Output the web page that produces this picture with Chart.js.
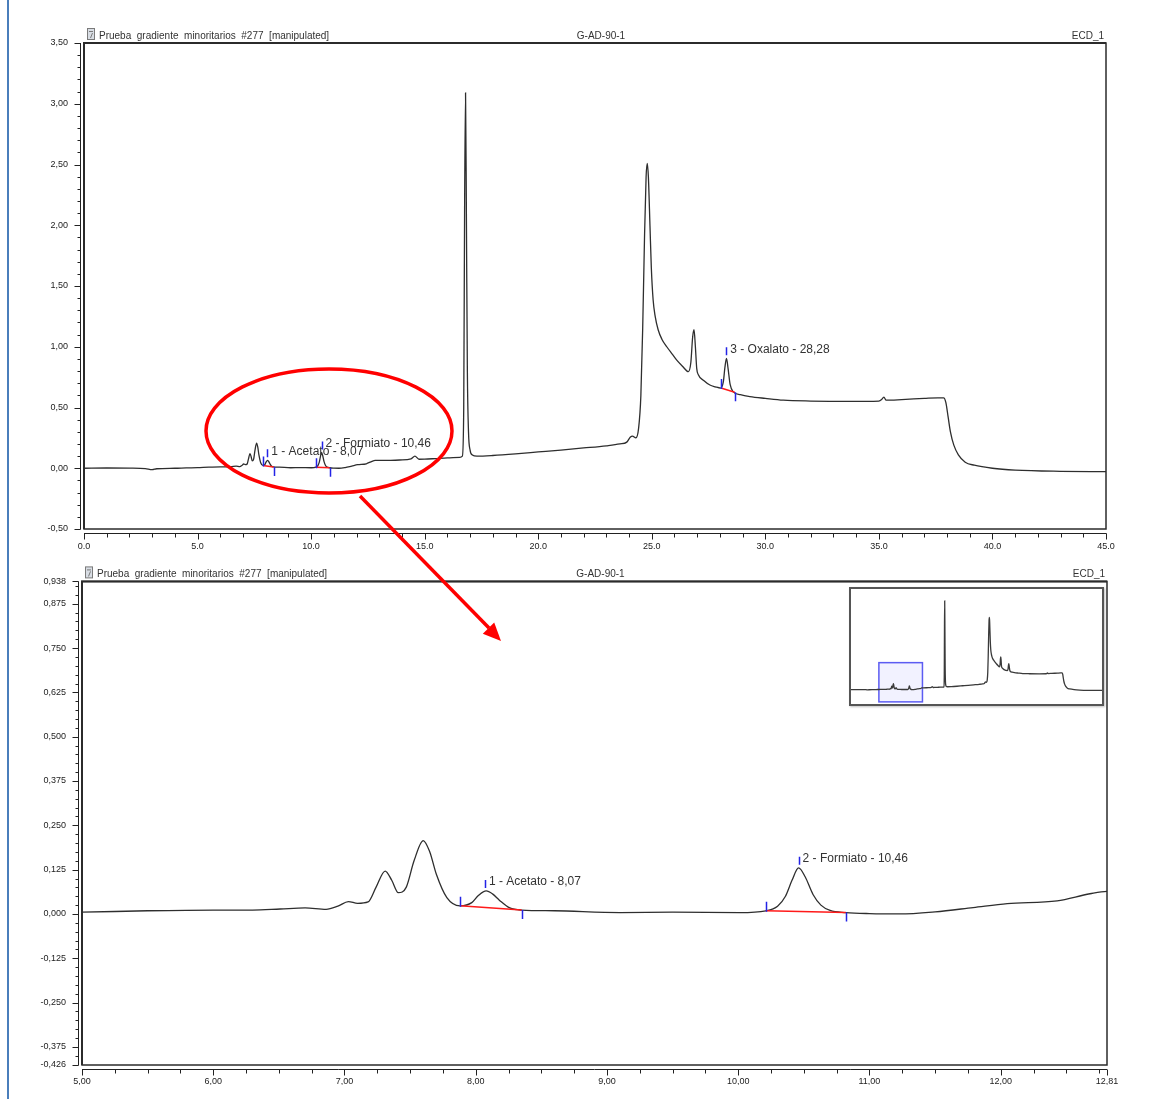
<!DOCTYPE html>
<html>
<head>
<meta charset="utf-8">
<script src="https://cdn.jsdelivr.net/npm/chart.js@4.4.1/dist/chart.umd.min.js"></script>
<style>
  body { margin: 0; background: #fff; }
  #page { position: relative; width: 1159px; height: 1099px; overflow: hidden; background: #fff; }
  #topChart { position: absolute; left: 0; top: 0; }
  #bottomChart { position: absolute; left: 0; top: 560px; }
  #insetBox { position: absolute; left: 849px; top: 587px; width: 251px; height: 115px;
              border: 2px solid #555; background: #fff; box-shadow: 1px 1px 2px rgba(0,0,0,0.25); }
  #insetChart { display: block; }
  #overlay { position: absolute; left: 0; top: 0; pointer-events: none; }
</style>
</head>
<body>
<div id="page">
  <canvas id="topChart" width="1159" height="560"></canvas>
  <canvas id="bottomChart" width="1159" height="539"></canvas>
  <div id="insetBox"><canvas id="insetChart" width="251" height="115"></canvas></div>
  <svg id="overlay" width="1159" height="1099">
    <line x1="8" y1="0" x2="8" y2="1099" stroke="#4a7ebb" stroke-width="2"/>
    <ellipse cx="329" cy="431" rx="123" ry="62" fill="none" stroke="#ff0000" stroke-width="3.5"/>
    <line x1="360" y1="496" x2="489" y2="628" stroke="#ff0000" stroke-width="3.5"/>
    <polygon points="501,641 482.8,633.7 494.2,622.5" fill="#ff0000"/>
  </svg>
</div>

<script>
// ===================== DATA =====================
// retention time (min) and ECD signal
const times = [
  0.0, 1.0, 2.0, 2.7, 3.0, 3.2, 4.0, 4.5, 5.0, 5.5, 6.0, 6.3, 6.51, 6.70, 6.86, 6.95,
  7.03, 7.10, 7.18, 7.24, 7.31, 7.36, 7.41, 7.47, 7.53, 7.60, 7.65, 7.70, 7.78, 7.88,
  7.97, 8.02, 8.08, 8.13, 8.18, 8.26, 8.35, 8.6, 9.1, 9.5, 10.01, 10.21, 10.30, 10.36,
  10.41, 10.46, 10.51, 10.57, 10.63, 10.70, 10.82, 11.0, 11.23, 11.5, 11.79, 12.05,
  12.43, 12.68, 12.82, 13.0, 13.5, 13.9, 14.4, 14.57, 14.75, 15.0, 15.5, 16.0, 16.55,
  16.66, 16.72, 16.76, 16.80, 16.84, 16.88, 16.93, 17.00, 17.10, 17.3, 18.0, 19.0, 20.0,
  21.0, 22.0, 23.0, 23.6, 23.9, 24.05, 24.15, 24.3, 24.42, 24.52, 24.6, 24.68, 24.75,
  24.80, 24.85, 24.92, 24.98, 25.06, 25.15, 25.28, 25.45, 25.66, 25.90, 26.10, 26.35,
  26.61, 26.72, 26.80, 26.86, 26.92, 26.98, 27.05, 27.30, 27.56, 27.80, 28.03, 28.15,
  28.22, 28.29, 28.36, 28.45, 28.58, 28.90, 29.32, 30.0, 30.79, 32.0, 33.73, 35.0, 35.12,
  35.22, 35.32, 36.0, 37.0, 37.6, 37.85, 37.95, 38.05, 38.15, 38.3, 38.5, 38.8, 39.2,
  40.0, 41.0, 43.0, 45.0
];
const signal = [
  0.000, 0.002, 0.001, -0.003, -0.012, -0.004, 0.000, 0.003, 0.005, 0.009, 0.011, 0.011, 0.014, 0.017, 0.013, 0.022,
  0.035, 0.030, 0.034, 0.075, 0.121, 0.095, 0.060, 0.075, 0.150, 0.207, 0.175, 0.112, 0.046, 0.023,
  0.032, 0.052, 0.065, 0.056, 0.039, 0.017, 0.011, 0.009, 0.004, 0.005, 0.004, 0.009, 0.022, 0.050,
  0.095, 0.130, 0.105, 0.055, 0.025, 0.010, 0.004, 0.001, 0.000, 0.006, 0.018, 0.029,
  0.037, 0.057, 0.064, 0.064, 0.065, 0.068, 0.078, 0.100, 0.074, 0.075, 0.080, 0.085, 0.090,
  0.100, 0.500, 2.200, 3.090, 2.000, 0.800, 0.300, 0.150, 0.110, 0.100, 0.105, 0.118, 0.134,
  0.150, 0.167, 0.185, 0.200, 0.215, 0.255, 0.265, 0.250, 0.330, 0.600, 1.150, 1.900, 2.400,
  2.510, 2.400, 2.000, 1.650, 1.385, 1.250, 1.140, 1.060, 1.000, 0.940, 0.890, 0.840,
  0.795, 0.870, 1.080, 1.140, 1.000, 0.820, 0.770, 0.720, 0.685, 0.670, 0.660, 0.710,
  0.830, 0.905, 0.820, 0.690, 0.630, 0.605, 0.590, 0.575, 0.560, 0.553, 0.550, 0.553, 0.565,
  0.585, 0.560, 0.565, 0.575, 0.580, 0.580, 0.540, 0.420, 0.300, 0.190, 0.110, 0.050, 0.025,
  0.000, -0.015, -0.025, -0.028
];

// integrated peaks
const peakNumbers = [1, 2, 3];
const peakNames = ["Acetato", "Formiato", "Oxalato"];
const peakTimes = [8.07, 10.46, 28.28];
const peakTops = [0.065, 0.130, 0.905];
const peakStarts = [7.88, 10.21, 28.05];
const peakEnds = [8.35, 10.82, 28.65];
const startLevels = [0.023, 0.009, 0.660];
const endLevels = [0.011, 0.004, 0.625];

// tick labels
const topXTicks = [0, 5, 10, 15, 20, 25, 30, 35, 40, 45];
const topYTicks = [-0.5, 0, 0.5, 1.0, 1.5, 2.0, 2.5, 3.0, 3.5];
const bottomXTicks = [5, 6, 7, 8, 9, 10, 11, 12, 12.81];
const bottomYTicks = [-0.426, -0.375, -0.25, -0.125, 0, 0.125, 0.25, 0.375, 0.5, 0.625, 0.75, 0.875, 0.938];

const headerTitle = "Prueba  gradiente  minoritarios  #277  [manipulated]";
const headerSample = "G-AD-90-1";
const headerChannel = "ECD_1";

const points = times.map((t, i) => ({ x: t, y: signal[i] }));

// ===================== HELPERS =====================
const FONT = "'Liberation Sans', Arial, sans-serif";

function fmt(v, d) {
  return Number(v).toFixed(d).replace(".", ",");
}

function minorValues(min, max, step) {
  const out = [];
  const a = Math.ceil(min / step - 1e-9);
  const b = Math.floor(max / step + 1e-9);
  for (let i = a; i <= b; i++) out.push(i * step);
  return out;
}

const crisp = p => Math.round(p) + 0.5;

// ===================== CHROMATOGRAM PLUGIN =====================
const chromPlugin = {
  id: "chrom",
  afterDatasetsDraw(chart, args, opts) {
    const { ctx, scales: { x, y } } = chart;
    ctx.save();
    peakTimes.forEach((t, i) => {
      if (t < x.min || t > x.max) return;
      const xs = x.getPixelForValue(peakStarts[i]), ys = y.getPixelForValue(startLevels[i]);
      const xe = x.getPixelForValue(peakEnds[i]), ye = y.getPixelForValue(endLevels[i]);
      const xp = x.getPixelForValue(t), yp = y.getPixelForValue(peakTops[i]);

      // baseline under the peak
      ctx.strokeStyle = "#ff1a1a";
      ctx.lineWidth = 1.5;
      ctx.beginPath();
      ctx.moveTo(xs, ys);
      ctx.lineTo(xe, ye);
      ctx.stroke();

      // start / apex / end marks
      ctx.strokeStyle = "#2323e6";
      ctx.lineWidth = 1.5;
      ctx.beginPath();
      ctx.moveTo(crisp(xs), ys - 9); ctx.lineTo(crisp(xs), ys + 1);
      ctx.moveTo(crisp(xp), yp - 11); ctx.lineTo(crisp(xp), yp - 3);
      ctx.moveTo(crisp(xe), ye); ctx.lineTo(crisp(xe), ye + 9);
      ctx.stroke();

      ctx.fillStyle = "#333";
      ctx.font = "12px " + FONT;
      ctx.textAlign = "left";
      ctx.textBaseline = "middle";
      ctx.fillText(peakNumbers[i] + " - " + peakNames[i] + " - " + fmt(t, 2), xp + 4, yp - 9);
    });
    ctx.restore();
  },
  afterDraw(chart, args, opts) {
    const { ctx, chartArea: a, scales: { x, y } } = chart;
    ctx.save();

    // plot frame
    ctx.strokeStyle = "#2b2b2b";
    ctx.lineWidth = 1.5;
    ctx.strokeRect(a.left, a.top, a.right - a.left, a.bottom - a.top);
    ctx.lineWidth = 2;
    ctx.beginPath();
    ctx.moveTo(a.left, a.bottom);
    ctx.lineTo(a.left, a.top);
    ctx.lineTo(a.right, a.top);
    ctx.stroke();

    // axis lines with minor and major ticks
    ctx.lineWidth = 1;
    ctx.strokeStyle = "#222";
    ctx.beginPath();
    const ax = Math.round(a.left) - 4 + 0.5;
    ctx.moveTo(ax, a.top); ctx.lineTo(ax, a.bottom);
    minorValues(y.min, y.max, opts.minorY).forEach(v => {
      const p = crisp(y.getPixelForValue(v));
      ctx.moveTo(ax - 3, p); ctx.lineTo(ax, p);
    });
    opts.majorY.forEach(v => {
      const p = crisp(y.getPixelForValue(v));
      ctx.moveTo(ax - 6, p); ctx.lineTo(ax, p);
    });
    const ay = Math.round(a.bottom) + 4 + 0.5;
    ctx.moveTo(a.left, ay); ctx.lineTo(a.right, ay);
    minorValues(x.min, x.max, opts.minorX).forEach(v => {
      const p = crisp(x.getPixelForValue(v));
      ctx.moveTo(p, ay); ctx.lineTo(p, ay + 4);
    });
    opts.majorX.forEach(v => {
      const p = crisp(x.getPixelForValue(v));
      ctx.moveTo(p, ay); ctx.lineTo(p, ay + 6);
    });
    ctx.stroke();

    // header line above the plot
    const hy = a.top - 4;
    ctx.fillStyle = "#333";
    ctx.font = "10px " + FONT;
    ctx.textBaseline = "alphabetic";
    ctx.textAlign = "left";
    ctx.fillText(headerTitle, a.left + 15, hy);
    ctx.textAlign = "center";
    ctx.fillText(headerSample, (a.left + a.right) / 2 + 6, hy);
    ctx.textAlign = "right";
    ctx.fillText(headerChannel, a.right - 2, hy);

    // small document icon
    ctx.fillStyle = "#d8dde4";
    ctx.strokeStyle = "#7a7a7a";
    ctx.lineWidth = 1;
    ctx.fillRect(a.left + 3.5, a.top - 14.5, 7, 11);
    ctx.strokeRect(a.left + 3.5, a.top - 14.5, 7, 11);
    ctx.beginPath();
    ctx.moveTo(a.left + 5, a.top - 11.5); ctx.lineTo(a.left + 9, a.top - 11.5);
    ctx.moveTo(a.left + 8.5, a.top - 10); ctx.lineTo(a.left + 6.5, a.top - 5);
    ctx.stroke();

    ctx.restore();
  }
};

// ===================== CHART BUILDER =====================
function buildChart(canvasId, cfg) {
  return new Chart(document.getElementById(canvasId), {
    type: "line",
    data: {
      datasets: [{
        data: points,
        borderColor: "#2e2e2e",
        borderWidth: 1.3,
        pointRadius: 0,
        fill: false,
        cubicInterpolationMode: "monotone"
      }]
    },
    plugins: [chromPlugin],
    options: {
      responsive: false,
      animation: false,
      events: [],
      layout: { padding: cfg.padding },
      plugins: {
        legend: { display: false },
        tooltip: { enabled: false },
        chrom: { minorX: cfg.minorX, minorY: cfg.minorY, majorX: cfg.xTicks, majorY: cfg.yTicks }
      },
      scales: {
        x: {
          type: "linear",
          min: cfg.xTicks[0],
          max: cfg.xTicks[cfg.xTicks.length - 1],
          afterBuildTicks: s => { s.ticks = cfg.xTicks.map(v => ({ value: v })); },
          afterFit: s => { s.height = 20; },
          grid: { display: false, drawTicks: false },
          border: { display: false },
          ticks: {
            autoSkip: false, maxRotation: 0, minRotation: 0,
            padding: cfg.xPad, color: "#222",
            font: { size: 9, family: FONT },
            callback: v => fmt(v, cfg.xDec)
          }
        },
        y: {
          type: "linear",
          min: cfg.yTicks[0],
          max: cfg.yTicks[cfg.yTicks.length - 1],
          afterBuildTicks: s => { s.ticks = cfg.yTicks.map(v => ({ value: v })); },
          afterFit: s => { s.width = 70; },
          grid: { display: false, drawTicks: false },
          border: { display: false },
          ticks: {
            autoSkip: false, padding: 16, color: "#222",
            font: { size: 9, family: FONT },
            callback: v => fmt(v, cfg.yDec)
          }
        }
      }
    }
  });
}

// ===================== FULL RUN =====================
buildChart("topChart", {
  padding: { left: 14, top: 43, right: 53, bottom: 11 },
  xTicks: topXTicks, yTicks: topYTicks,
  minorX: 1, minorY: 0.1, xDec: 1, yDec: 2, xPad: 12
});

// ===================== ZOOM 5 - 12.81 min =====================
buildChart("bottomChart", {
  padding: { left: 12, top: 19, right: 52, bottom: 14 },
  xTicks: bottomXTicks, yTicks: bottomYTicks,
  minorX: 0.25, minorY: 0.025, xDec: 2, yDec: 3, xPad: 11
});

// ===================== OVERVIEW INSET =====================
const zoomWindowPlugin = {
  id: "zoomWindow",
  beforeDatasetsDraw(chart) {
    const { ctx, scales: { x, y } } = chart;
    const x1 = x.getPixelForValue(bottomXTicks[0]);
    const x2 = x.getPixelForValue(bottomXTicks[bottomXTicks.length - 1]);
    const y1 = y.getPixelForValue(bottomYTicks[bottomYTicks.length - 1]);
    const y2 = y.getPixelForValue(bottomYTicks[0]);
    ctx.save();
    ctx.fillStyle = "rgba(110,110,255,0.09)";
    ctx.fillRect(x1, y1, x2 - x1, y2 - y1);
    ctx.strokeStyle = "#5c5cf2";
    ctx.lineWidth = 1.5;
    ctx.strokeRect(x1, y1, x2 - x1, y2 - y1);
    ctx.restore();
  }
};

new Chart(document.getElementById("insetChart"), {
  type: "line",
  data: {
    datasets: [{
      data: points,
      borderColor: "#3a3a3a",
      borderWidth: 1.3,
      pointRadius: 0,
      fill: false,
      cubicInterpolationMode: "monotone"
    }]
  },
  plugins: [zoomWindowPlugin],
  options: {
    responsive: false,
    animation: false,
    events: [],
    layout: { padding: 0 },
    plugins: { legend: { display: false }, tooltip: { enabled: false } },
    scales: {
      x: { type: "linear", display: false, min: topXTicks[0], max: topXTicks[topXTicks.length - 1] },
      y: { type: "linear", display: false, min: topYTicks[0], max: topYTicks[topYTicks.length - 1] }
    }
  }
});
</script>
</body>
</html>
